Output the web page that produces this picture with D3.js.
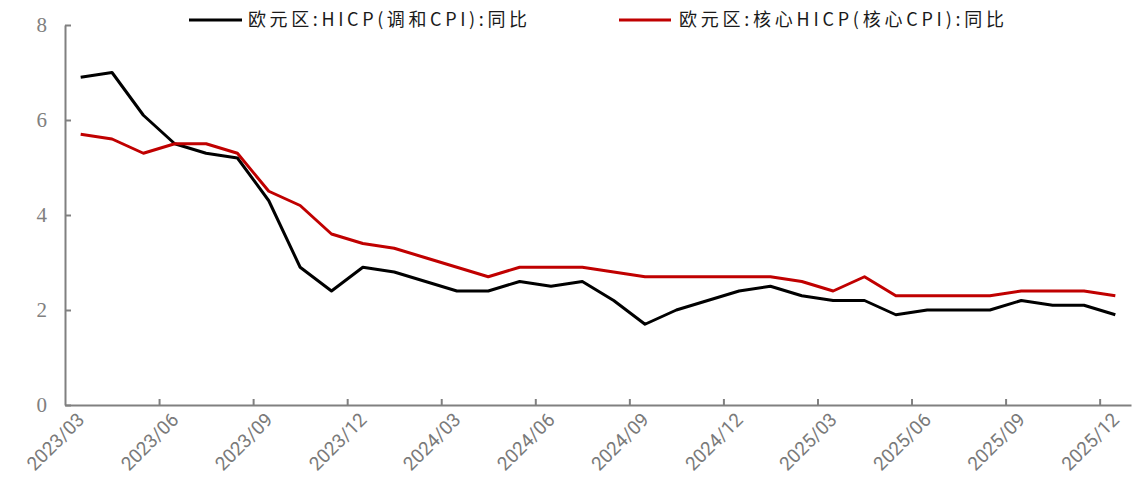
<!DOCTYPE html>
<html>
<head>
<meta charset="utf-8">
<script src="https://cdn.jsdelivr.net/npm/d3@7"></script>
<style>
html,body{margin:0;padding:0;background:#fff;}
svg{display:block;}
</style>
</head>
<body>
<svg id="chart" width="1132" height="487"></svg>
<script>
const months = ["2023/03","2023/04","2023/05","2023/06","2023/07","2023/08","2023/09","2023/10","2023/11","2023/12",
"2024/01","2024/02","2024/03","2024/04","2024/05","2024/06","2024/07","2024/08","2024/09","2024/10","2024/11","2024/12",
"2025/01","2025/02","2025/03","2025/04","2025/05","2025/06","2025/07","2025/08","2025/09","2025/10","2025/11","2025/12"];
const hicp = [6.9,7.0,6.1,5.5,5.3,5.2,4.3,2.9,2.4,2.9,2.8,2.6,2.4,2.4,2.6,2.5,2.6,2.2,1.7,2.0,2.2,2.4,2.5,2.3,2.2,2.2,1.9,2.0,2.0,2.0,2.2,2.1,2.1,1.9];
const core = [5.7,5.6,5.3,5.5,5.5,5.3,4.5,4.2,3.6,3.4,3.3,3.1,2.9,2.7,2.9,2.9,2.9,2.8,2.7,2.7,2.7,2.7,2.7,2.6,2.4,2.7,2.3,2.3,2.3,2.3,2.4,2.4,2.4,2.3];
const yTicks = [0,2,4,6,8];
const seriesNames = ["欧元区:HICP(调和CPI):同比","欧元区:核心HICP(核心CPI):同比"];
const seriesColors = ["#000000","#C00000"];

(function(){
const svg = d3.select("#chart");
const mLeft = 65, mRight = 1131, mTop = 25, mBottom = 405;
const axisColor = "#808080";

const x = d3.scaleLinear().domain([0, months.length]).range([mLeft, mRight]);
const y = d3.scaleLinear().domain([0, 8]).range([mBottom, mTop]);

// Y axis
const yAxis = svg.append("g").attr("transform", `translate(${mLeft},0)`)
  .call(d3.axisLeft(y).tickValues(yTicks).tickSizeInner(-6).tickSizeOuter(0).tickPadding(18).tickFormat(d3.format("d")));
yAxis.select(".domain").attr("stroke", axisColor).attr("stroke-width", 2);
yAxis.selectAll(".tick line").attr("stroke", axisColor).attr("stroke-width", 2);
yAxis.selectAll(".tick text").attr("fill", axisColor)
  .style("font-family", "'Liberation Serif', 'Times New Roman', serif").style("font-size", "21px");

// X axis
const xTickVals = d3.range(3, months.length, 3);
const xAxis = svg.append("g").attr("transform", `translate(0,${mBottom})`)
  .call(d3.axisBottom(x).tickValues(xTickVals).tickSizeInner(-6).tickSizeOuter(0).tickFormat(""));
xAxis.select(".domain").attr("stroke", axisColor).attr("stroke-width", 2);
xAxis.selectAll(".tick line").attr("stroke", axisColor).attr("stroke-width", 2);

const labelIdx = d3.range(0, months.length, 3);
svg.append("g").selectAll("text").data(labelIdx).join("text")
  .attr("transform", i => `translate(${x(i + 0.5) + 5},${mBottom + 16}) rotate(-45)`)
  .attr("text-anchor", "end")
  .attr("fill", "#7a7a7a")
  .style("font-family", "Roboto, 'Open Sans', sans-serif")
  .style("font-weight", "400")
  .style("font-size", "19px")
  .text(i => months[i]);

// Lines
const line = d3.line().x((d, i) => x(i + 0.5)).y(d => y(d));
[hicp, core].forEach((s, k) => {
  svg.append("path").datum(s).attr("d", line)
    .attr("fill", "none").attr("stroke", seriesColors[k]).attr("stroke-width", 3)
    .attr("stroke-linejoin", "round");
});

// Legend
const legendItems = [
  {x1: 189, x2: 242, tx: 248, tw: 279},
  {x1: 619, x2: 671, tx: 679, tw: 325}
];
const ly = 20;
legendItems.forEach((it, k) => {
  svg.append("line").attr("x1", it.x1).attr("x2", it.x2).attr("y1", ly).attr("y2", ly)
    .attr("stroke", seriesColors[k]).attr("stroke-width", 3);
  svg.append("text").attr("x", it.tx).attr("y", ly).attr("dy", "0.35em")
    .attr("textLength", it.tw).attr("lengthAdjust", "spacing")
    .attr("fill", "#1a1a1a")
    .style("font-family", "'Noto Sans CJK SC', sans-serif")
    .style("font-size", "18px")
    .text(seriesNames[k]);
});
})();
</script>
</body>
</html>
